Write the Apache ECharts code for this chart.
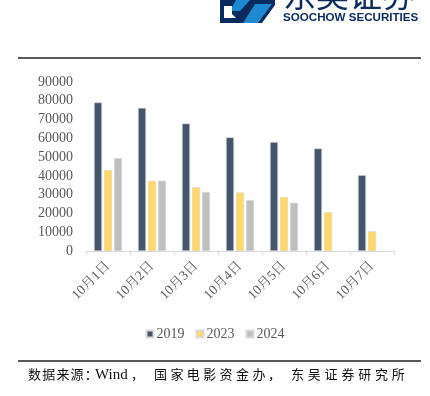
<!DOCTYPE html>
<html>
<head>
<meta charset="utf-8">
<script src="https://cdn.jsdelivr.net/npm/echarts@6/dist/echarts.min.js"></script>
<style>html,body{margin:0;padding:0;background:#fff;}#c{width:430px;height:396px;}</style>
</head>
<body>
<div id="c"></div>
<script>
const categories = ['10月1日','10月2日','10月3日','10月4日','10月5日','10月6日','10月7日'];
const s2019 = [79100, 76200, 67900, 60500, 58000, 54600, 40400];
const s2023 = [43100, 37400, 34000, 31200, 28700, 20700, 10500];
const s2024 = [49500, 37400, 31400, 27100, 25700, null, null];
const seriesNames = ['2019','2023','2024'];
const yTicks = {min: 0, max: 90000, interval: 10000};
const sourceParts = ['数据来源：', 'Wind', '，', '国家电影资金办', '，', '东吴证券研究所'];

const chart = echarts.init(document.getElementById('c'), null, {renderer: 'canvas'});
const serif = '"Liberation Serif", "Times New Roman", "Noto Serif CJK SC", "Noto Sans CJK SC", serif';
const colors = ['#44546A', '#FFD966', '#BFBFBF'];
const barStyle = (c) => ({color: c, borderColor: '#D9D9D9', borderWidth: 0.6});

// source line laid out char by char (wide tracking like the original)
function spaced(str, x0, pitch, y) {
  return str.split('').map((ch, i) => ({
    type: 'text', x: x0 + i * pitch, y: y,
    style: {text: ch, font: '13px "Noto Sans CJK SC"', fill: '#111', textVerticalAlign: 'middle'}
  }));
}
const srcY = 374;
const sourceGraphics = [].concat(
  spaced(sourceParts[0], 28, 14.2, srcY),
  [{type: 'text', x: 95, y: srcY + 1, style: {text: sourceParts[1], font: '15px "Liberation Serif"', fill: '#111', textVerticalAlign: 'middle'}}],
  spaced(sourceParts[2], 131, 13, srcY),
  spaced(sourceParts[3], 154, 16.4, srcY),
  spaced(sourceParts[4], 268, 13, srcY),
  spaced(sourceParts[5], 291, 16.8, srcY)
);

chart.setOption({
  animation: false,
  grid: {left: 86, right: 36, top: 82, bottom: 145, containLabel: false},
  legend: {
    data: seriesNames,
    top: 322,
    left: 'center',
    itemWidth: 7, itemHeight: 7, itemGap: 11,
    icon: 'rect',
    textStyle: {fontFamily: serif, fontSize: 14, color: '#595959', padding: [0, 0, 0, -2]}
  },
  xAxis: {
    type: 'category',
    data: categories,
    axisLine: {lineStyle: {color: '#D9D9D9', width: 1}},
    axisTick: {show: true, alignWithLabel: false, length: 4, lineStyle: {color: '#D9D9D9'}},
    axisLabel: {rotate: 45, fontFamily: serif, fontSize: 13.5, color: '#595959', margin: 13, interval: 0}
  },
  yAxis: {
    type: 'value',
    min: yTicks.min, max: yTicks.max, interval: yTicks.interval,
    splitLine: {show: false},
    axisLine: {show: false},
    axisTick: {show: false},
    axisLabel: {fontFamily: serif, fontSize: 14, color: '#595959', margin: 13, formatter: (v) => String(v)}
  },
  series: [
    {name: seriesNames[0], type: 'bar', data: s2019, barWidth: 8, barGap: '25%', itemStyle: barStyle(colors[0])},
    {name: seriesNames[1], type: 'bar', data: s2023, barWidth: 8, barGap: '25%', itemStyle: barStyle(colors[1])},
    {name: seriesNames[2], type: 'bar', data: s2024, barWidth: 8, barGap: '25%', itemStyle: barStyle(colors[2])}
  ],
  graphic: [
    // logo block
    {type: 'polygon', shape: {points: [[220,0],[275,0],[275,5],[262,23],[220,23]]}, style: {fill: '#0B2A5E'}},
    {type: 'polygon', shape: {points: [[236,0],[250,0],[240,11],[230,11]]}, style: {fill: '#1E88D0'}},
    {type: 'polygon', shape: {points: [[255,4],[272,4],[258,23],[243,23]]}, style: {fill: '#1E88D0'}},
    {type: 'polygon', shape: {points: [[224,6],[232,6],[232,14],[236,18],[224,18]]}, style: {fill: '#FFFFFF'}},
    {type: 'text', x: 283, y: 11, style: {text: '东吴证券', font: '33px "Noto Sans CJK SC"', fill: '#0B2A5E', textVerticalAlign: 'bottom'}},
    {type: 'text', x: 283, y: 17.5, style: {text: 'SOOCHOW SECURITIES', font: 'bold 11.6px "Liberation Sans", sans-serif', fill: '#0B2A5E', textVerticalAlign: 'middle'}},
    // rules
    {type: 'line', shape: {x1: 18, y1: 58, x2: 421, y2: 58}, style: {stroke: '#222', lineWidth: 1.6}},
    {type: 'line', shape: {x1: 18, y1: 361, x2: 421, y2: 361}, style: {stroke: '#222', lineWidth: 1.6}}
  ].concat(sourceGraphics)
});
</script>
</body>
</html>
